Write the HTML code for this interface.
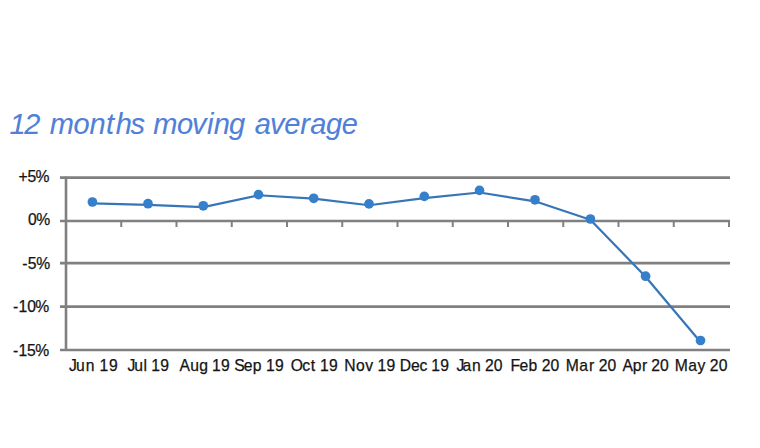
<!DOCTYPE html><html><head><meta charset="utf-8"><title>12 months moving average</title><style>html,body{margin:0;padding:0;background:#fff;width:760px;height:448px;overflow:hidden}svg{display:block}text{font-family:"Liberation Sans",sans-serif;white-space:pre}</style></head><body>
<svg width="760" height="448" viewBox="0 0 760 448">
<rect width="760" height="448" fill="#fff"/>
<line x1="60" y1="177.6" x2="730" y2="177.6" stroke="#808080" stroke-width="2.6"/>
<line x1="60" y1="221.0" x2="730" y2="221.0" stroke="#808080" stroke-width="2.6"/>
<line x1="60" y1="263.1" x2="730" y2="263.1" stroke="#808080" stroke-width="2.6"/>
<line x1="60" y1="306.6" x2="730" y2="306.6" stroke="#808080" stroke-width="2.6"/>
<line x1="60" y1="350.0" x2="730" y2="350.0" stroke="#808080" stroke-width="2.6"/>
<line x1="66" y1="176.6" x2="66" y2="351.0" stroke="#808080" stroke-width="2.6"/>
<line x1="121.25" y1="221.0" x2="121.25" y2="227.0" stroke="#808080" stroke-width="2"/>
<line x1="176.50" y1="221.0" x2="176.50" y2="227.0" stroke="#808080" stroke-width="2"/>
<line x1="231.75" y1="221.0" x2="231.75" y2="227.0" stroke="#808080" stroke-width="2"/>
<line x1="287.00" y1="221.0" x2="287.00" y2="227.0" stroke="#808080" stroke-width="2"/>
<line x1="342.25" y1="221.0" x2="342.25" y2="227.0" stroke="#808080" stroke-width="2"/>
<line x1="397.50" y1="221.0" x2="397.50" y2="227.0" stroke="#808080" stroke-width="2"/>
<line x1="452.75" y1="221.0" x2="452.75" y2="227.0" stroke="#808080" stroke-width="2"/>
<line x1="508.00" y1="221.0" x2="508.00" y2="227.0" stroke="#808080" stroke-width="2"/>
<line x1="563.25" y1="221.0" x2="563.25" y2="227.0" stroke="#808080" stroke-width="2"/>
<line x1="618.50" y1="221.0" x2="618.50" y2="227.0" stroke="#808080" stroke-width="2"/>
<line x1="673.75" y1="221.0" x2="673.75" y2="227.0" stroke="#808080" stroke-width="2"/>
<line x1="729.00" y1="221.0" x2="729.00" y2="227.0" stroke="#808080" stroke-width="2"/>
<polyline points="92.4,203.45 148,204.93 203.3,207.08 258.5,195.24 313.7,198.68 369,205.22 424.3,198.16 479.5,192.49 535,201.3 590.4,219.8 645.6,276.69 700.5,342.02" fill="none" stroke="#3676b8" stroke-width="2.2" stroke-linejoin="round"/>
<circle cx="92.4" cy="202" r="4.85" fill="#367fca"/>
<circle cx="148" cy="203.7" r="4.85" fill="#367fca"/>
<circle cx="203.3" cy="205.8" r="4.85" fill="#367fca"/>
<circle cx="258.5" cy="194.6" r="4.85" fill="#367fca"/>
<circle cx="313.7" cy="198.3" r="4.85" fill="#367fca"/>
<circle cx="369" cy="203.9" r="4.85" fill="#367fca"/>
<circle cx="424.3" cy="196.4" r="4.85" fill="#367fca"/>
<circle cx="479.5" cy="190.4" r="4.85" fill="#367fca"/>
<circle cx="535" cy="199.8" r="4.85" fill="#367fca"/>
<circle cx="590.4" cy="219" r="4.85" fill="#367fca"/>
<circle cx="645.6" cy="276.2" r="4.85" fill="#367fca"/>
<circle cx="700.5" cy="340.5" r="4.85" fill="#367fca"/>
<text x="9.39 24.21 36.95 49.70 73.39 89.58 105.99 115.84 130.45 141.86 153.27 176.91 191.92 206.92 213.83 229.12 241.98 254.85 270.09 284.34 300.22 310.21 326.07 341.83" y="133.60" font-size="29" fill="#5080d8" stroke="#5080d8" stroke-width="0.1" font-style="italic">12 months moving average</text>
<text x="18.56 27.43 35.56" y="182.15" font-size="15.7" fill="#141414" stroke="#141414" stroke-width="0.25">+5%</text>
<text x="28.08 36.33" y="225.35" font-size="15.7" fill="#141414" stroke="#141414" stroke-width="0.25">0%</text>
<text x="22.29 27.75 36.26" y="269.15" font-size="15.7" fill="#141414" stroke="#141414" stroke-width="0.25">-5%</text>
<text x="13.02 18.48 27.15 35.16" y="312.25" font-size="15.7" fill="#141414" stroke="#141414" stroke-width="0.25">-10%</text>
<text x="13.02 18.48 27.05 35.16" y="356.15" font-size="15.7" fill="#141414" stroke="#141414" stroke-width="0.25">-15%</text>
<text x="68.90 76.06 85.82 94.95 99.56 108.98" y="371.00" font-size="15.7" fill="#141414" stroke="#141414" stroke-width="0.25">Jun 19</text>
<text x="127.38 134.14 143.40 147.15 151.31 160.27" y="371.00" font-size="15.7" fill="#141414" stroke="#141414" stroke-width="0.25">Jul 19</text>
<text x="179.54 190.15 199.35 207.59 211.90 221.01" y="371.00" font-size="15.7" fill="#141414" stroke="#141414" stroke-width="0.25">Aug 19</text>
<text x="234.27 243.66 252.77 261.65 265.89 274.94" y="371.00" font-size="15.7" fill="#141414" stroke="#141414" stroke-width="0.25">Sep 19</text>
<text x="290.68 302.37 310.68 315.87 320.06 329.06" y="371.00" font-size="15.7" fill="#141414" stroke="#141414" stroke-width="0.25">Oct 19</text>
<text x="344.28 356.00 365.14 373.08 377.39 386.51" y="371.00" font-size="15.7" fill="#141414" stroke="#141414" stroke-width="0.25">Nov 19</text>
<text x="399.87 410.92 419.41 427.05 431.25 440.25" y="371.00" font-size="15.7" fill="#141414" stroke="#141414" stroke-width="0.25">Dec 19</text>
<text x="456.59 462.52 471.89 480.81 484.88 493.74" y="371.00" font-size="15.7" fill="#141414" stroke="#141414" stroke-width="0.25">Jan 20</text>
<text x="510.50 519.41 528.59 537.48 541.64 550.60" y="371.00" font-size="15.7" fill="#141414" stroke="#141414" stroke-width="0.25">Feb 20</text>
<text x="565.87 579.30 588.88 594.57 598.69 607.62" y="371.00" font-size="15.7" fill="#141414" stroke="#141414" stroke-width="0.25">Mar 20</text>
<text x="622.43 632.82 641.90 647.50 651.33 659.95" y="371.00" font-size="15.7" fill="#141414" stroke="#141414" stroke-width="0.25">Apr 20</text>
<text x="674.66 688.27 697.55 705.55 709.80 718.86" y="371.00" font-size="15.7" fill="#141414" stroke="#141414" stroke-width="0.25">May 20</text>
</svg></body></html>
